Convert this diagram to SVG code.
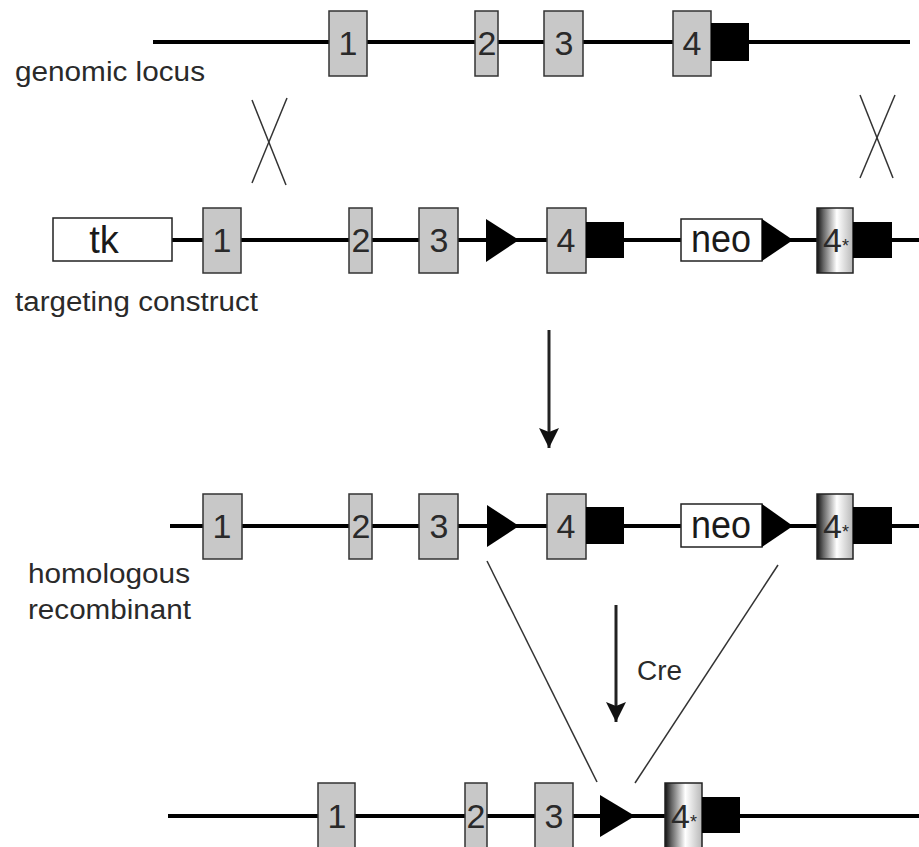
<svg xmlns="http://www.w3.org/2000/svg" width="919" height="847" viewBox="0 0 919 847">
<defs>
<style>
.dna{stroke:#000;stroke-width:4;fill:none}
.exon{fill:#c8c8c8;stroke:#333;stroke-width:1.5}
.exm{fill:url(#mg);stroke:#222;stroke-width:1.5}
.utr{fill:#000}
.lox{fill:#000}
.box{fill:#fff;stroke:#222;stroke-width:1.5}
.thin{stroke:#333;stroke-width:1.5;fill:none}
.arr{stroke:#222;stroke-width:3;fill:none;marker-end:url(#ah)}
.lbl{font-family:"Liberation Sans",Arial,sans-serif;fill:#2a2a2a;font-size:27px}
.num{font-family:"Liberation Sans",Arial,sans-serif;fill:#2a2a2a;font-size:34px;text-anchor:middle}
.big{font-family:"Liberation Sans",Arial,sans-serif;fill:#1a1a1a;font-size:38px;text-anchor:middle}
</style>
<linearGradient id="mg" x1="0" y1="0" x2="1" y2="0">
<stop offset="0" stop-color="#111"/>
<stop offset="0.18" stop-color="#666"/>
<stop offset="0.55" stop-color="#fff"/>
<stop offset="1" stop-color="#b8b8b8"/>
</linearGradient>
<marker id="ah" viewBox="0 0 20 20" refX="20" refY="10" markerWidth="20" markerHeight="20" markerUnits="userSpaceOnUse" orient="auto">
<path d="M0,0 L20,10 L0,20 L4,10 z" fill="#111"/>
</marker>
</defs>
<rect width="919" height="847" fill="#fff"/>

<g id="connectors">
<line class="dna" x1="153" y1="42" x2="910" y2="42"/>
<line class="dna" x1="172" y1="240" x2="919" y2="240"/>
<line class="dna" x1="170" y1="526" x2="919" y2="526"/>
<line class="dna" x1="168" y1="816" x2="919" y2="816"/>
<line class="thin" x1="252" y1="100" x2="286" y2="185"/>
<line class="thin" x1="287" y1="98" x2="252" y2="183"/>
<line class="thin" x1="860" y1="95" x2="893" y2="178"/>
<line class="thin" x1="895" y1="95" x2="860" y2="178"/>
<line class="arr" x1="549" y1="330" x2="549" y2="448"/>
<line class="arr" x1="616" y1="605" x2="616" y2="722"/>
<line class="thin" x1="487" y1="561" x2="597" y2="782"/>
<line class="thin" x1="778" y1="565" x2="635" y2="783"/>
</g>

<g id="labels">
<text class="lbl" x="15" y="81" textLength="190" lengthAdjust="spacingAndGlyphs">genomic locus</text>
<text class="lbl" x="15" y="311" textLength="243" lengthAdjust="spacingAndGlyphs">targeting construct</text>
<text class="lbl" x="28" y="583" textLength="162" lengthAdjust="spacingAndGlyphs">homologous</text>
<text class="lbl" x="28" y="619" textLength="163" lengthAdjust="spacingAndGlyphs">recombinant</text>
<text class="lbl" x="637" y="680" textLength="45" lengthAdjust="spacingAndGlyphs">Cre</text>
</g>

<g id="genomic-locus">
<g id="g-e1"><rect class="exon" x="329" y="11" width="38" height="65"/><text class="num" x="348" y="55">1</text></g>
<g id="g-e2"><rect class="exon" x="475" y="11" width="23" height="65"/><text class="num" x="487" y="55">2</text></g>
<g id="g-e3"><rect class="exon" x="544" y="11" width="39" height="65"/><text class="num" x="564" y="55">3</text></g>
<g id="g-e4"><rect class="exon" x="673" y="11" width="38" height="65"/><text class="num" x="692" y="55">4</text><rect class="utr" x="711" y="23" width="38" height="38"/></g>
</g>

<g id="targeting-construct">
<g id="t-tk"><rect class="box" x="53" y="218" width="119" height="43"/><text class="big" x="104" y="253">tk</text></g>
<g id="t-e1"><rect class="exon" x="203" y="208" width="38" height="65"/><text class="num" x="222" y="252">1</text></g>
<g id="t-e2"><rect class="exon" x="349" y="208" width="23" height="65"/><text class="num" x="361" y="252">2</text></g>
<g id="t-e3"><rect class="exon" x="419" y="208" width="39" height="65"/><text class="num" x="439" y="252">3</text></g>
<g id="t-lox1"><polygon class="lox" points="486,219 486,262 519,240"/></g>
<g id="t-e4"><rect class="exon" x="547" y="208" width="39" height="65"/><text class="num" x="566" y="252">4</text><rect class="utr" x="586" y="222" width="38" height="36"/></g>
<g id="t-neo"><rect class="box" x="681" y="219" width="81" height="42"/><text class="big" x="721" y="252" textLength="60" lengthAdjust="spacingAndGlyphs">neo</text><polygon class="lox" points="762,219 762,261 793,240"/></g>
<g id="t-e4m"><rect class="exm" x="817" y="208" width="36" height="65"/><text class="num" x="836" y="252">4<tspan font-size="18">*</tspan></text><rect class="utr" x="853" y="222" width="39" height="36"/></g>
</g>

<g id="homologous-recombinant">
<g id="h-e1"><rect class="exon" x="203" y="494" width="39" height="65"/><text class="num" x="222" y="538">1</text></g>
<g id="h-e2"><rect class="exon" x="349" y="494" width="23" height="65"/><text class="num" x="361" y="538">2</text></g>
<g id="h-e3"><rect class="exon" x="419" y="494" width="39" height="65"/><text class="num" x="439" y="538">3</text></g>
<g id="h-lox1"><polygon class="lox" points="487,505 487,547 519,526"/></g>
<g id="h-e4"><rect class="exon" x="547" y="494" width="39" height="65"/><text class="num" x="566" y="538">4</text><rect class="utr" x="586" y="507" width="38" height="37"/></g>
<g id="h-neo"><rect class="box" x="681" y="504" width="81" height="43"/><text class="big" x="721" y="538" textLength="60" lengthAdjust="spacingAndGlyphs">neo</text><polygon class="lox" points="762,504 762,547 793,526"/></g>
<g id="h-e4m"><rect class="exm" x="817" y="494" width="36" height="65"/><text class="num" x="836" y="538">4<tspan font-size="18">*</tspan></text><rect class="utr" x="853" y="507" width="39" height="37"/></g>
</g>

<g id="deleted-allele">
<g id="d-e1"><rect class="exon" x="318" y="783" width="37" height="65"/><text class="num" x="337" y="828">1</text></g>
<g id="d-e2"><rect class="exon" x="465" y="783" width="22" height="65"/><text class="num" x="476" y="828">2</text></g>
<g id="d-e3"><rect class="exon" x="535" y="783" width="38" height="65"/><text class="num" x="554" y="828">3</text></g>
<g id="d-lox"><polygon class="lox" points="600,795 600,837 635,816"/></g>
<g id="d-e4m"><rect class="exm" x="665" y="783" width="37" height="65"/><text class="num" x="684" y="828">4<tspan font-size="18">*</tspan></text><rect class="utr" x="702" y="797" width="38" height="36"/></g>
</g>
</svg>
